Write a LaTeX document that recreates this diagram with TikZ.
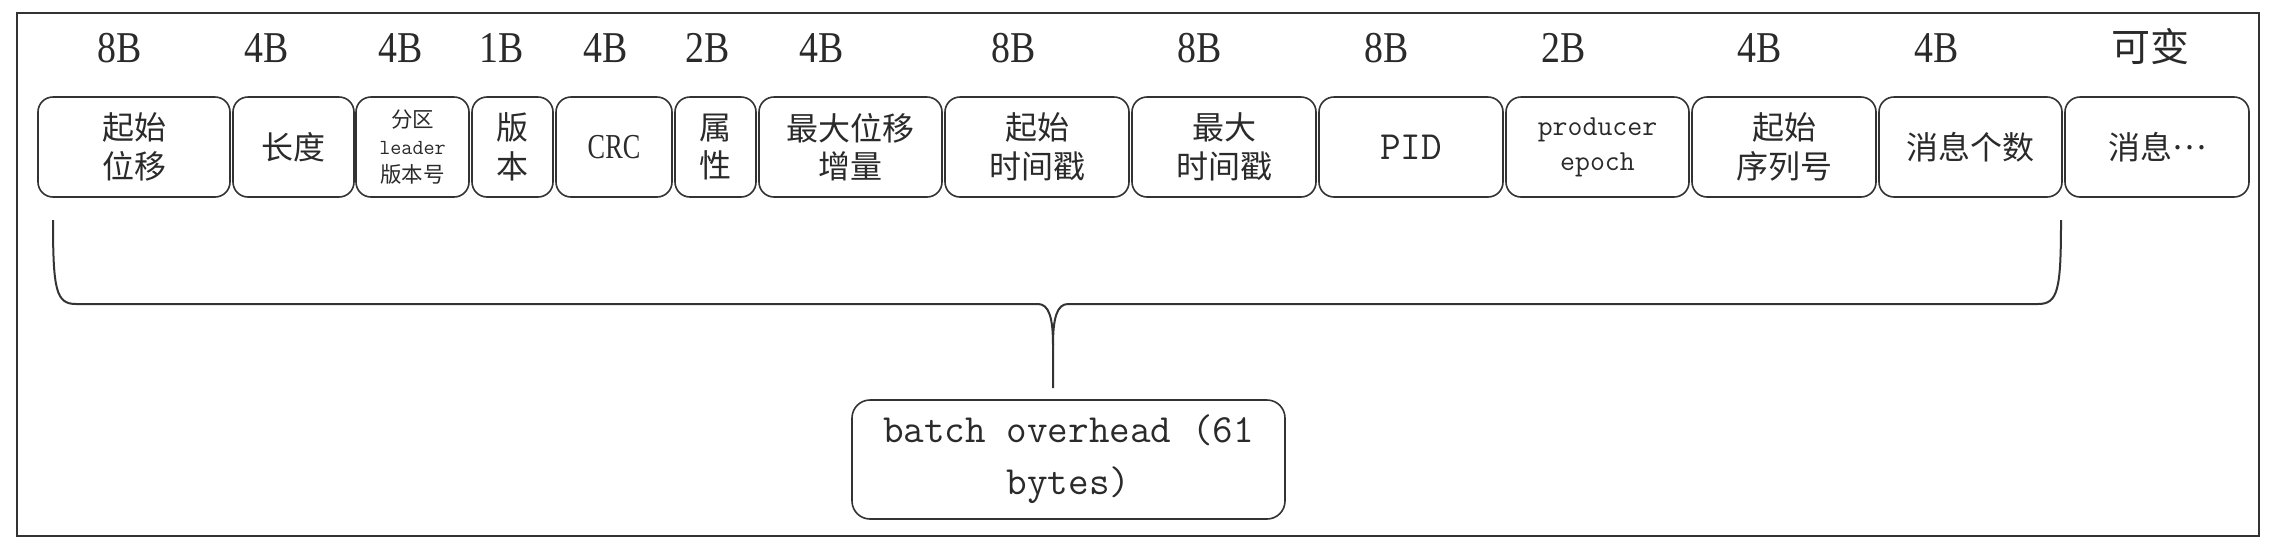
\documentclass[tikz,border=0pt]{standalone}
\usepackage{fontspec}
\setmainfont{Liberation Serif}
\newfontfamily\cjk{Noto Sans CJK SC}
\newfontfamily\cond{Liberation Serif}[FakeStretch=0.75]
\newfontfamily\labf{Liberation Serif}[FakeStretch=0.86]
\definecolor{linec}{HTML}{333333}
\definecolor{txt}{HTML}{2A2A2A}
\newcommand{\low}[1]{\raisebox{-4pt}{#1}}
\begin{document}
\begin{tikzpicture}[x=1pt,y=-1pt,
  fld/.style={draw=linec,line width=1.6pt,rounded corners=15pt,inner sep=0pt,
    minimum height=100pt,align=center,text=txt,font=\cjk\fontsize{32}{38.5}\selectfont},
  bytelab/.style={text=txt,inner sep=0pt,font=\labf\fontsize{44}{48}\selectfont},
  frame/.style={draw=linec,line width=2.6pt},
  brace/.style={draw=linec,line width=2pt}]
\useasboundingbox (0,0) rectangle (2278,550);
\draw[frame] (17,13) rectangle (2259,536);
% fields
\node[fld,minimum width=192pt] (f1) at (134,147) {起始\\位移};
\node[fld,minimum width=121pt] (f2) at (293.5,147) {\low{长度}};
\node[fld,minimum width=113pt,font=\cjk\fontsize{21.5}{27.5}\selectfont] (f3) at (412.5,147) {分区\\{\ttfamily leader}\\版本号};
\node[fld,minimum width=81pt] (f4) at (512.5,147) {版\\本};
\node[fld,minimum width=116pt,font=\cond\fontsize{35}{40}\selectfont] (f5) at (614,147) {\low{CRC}};
\node[fld,minimum width=81pt] (f6) at (715.5,147) {属\\性};
\node[fld,minimum width=183pt] (f7) at (850.5,147) {最大位移\\增量};
\node[fld,minimum width=184pt] (f8) at (1037,147) {起始\\时间戳};
\node[fld,minimum width=184pt] (f9) at (1224,147) {最大\\时间戳};
\node[fld,minimum width=184pt,font=\ttfamily\fontsize{40}{44}\selectfont] (f10) at (1411,147) {\low{PID}};
\node[fld,minimum width=183pt,font=\ttfamily\fontsize{29}{35}\selectfont] (f11) at (1597.5,147) {producer\\epoch};
\node[fld,minimum width=184pt] (f12) at (1784,147) {起始\\序列号};
\node[fld,minimum width=183pt] (f13) at (1970.5,147) {\low{消息个数}};
\node[fld,minimum width=184pt] (f14) at (2157,147) {\low{消息\raisebox{0.32em}{…}}};
% byte sizes
\node[bytelab] (l1) at (120,48) {8B};
\node[bytelab] (l2) at (267,48) {4B};
\node[bytelab] (l3) at (401,48) {4B};
\node[bytelab] (l4) at (502,48) {1B};
\node[bytelab] (l5) at (606,48) {4B};
\node[bytelab] (l6) at (708,48) {2B};
\node[bytelab] (l7) at (822,48) {4B};
\node[bytelab] (l8) at (1014,48) {8B};
\node[bytelab] (l9) at (1200,48) {8B};
\node[bytelab] (l10) at (1387,48) {8B};
\node[bytelab] (l11) at (1564,48) {2B};
\node[bytelab] (l12) at (1760,48) {4B};
\node[bytelab] (l13) at (1937,48) {4B};
\node[bytelab,font=\cjk\fontsize{39}{42}\selectfont] (l14) at (2150,47) {可变};
% brace
\coordinate (bl) at (53,220);
\coordinate (br) at (2061,220);
\coordinate (tip) at (1053,388);
\draw[brace] (bl) .. controls (53,290) and (56,304) .. (76,304) -- (1038,304)
  .. controls (1049,304) and (1053,318) .. (1053,345) -- (tip);
\draw[brace] (br) .. controls (2061,290) and (2058,304) .. (2038,304) -- (1068,304)
  .. controls (1057,304) and (1053,318) .. (1053,345);
% overhead box
\node[fld,minimum width=433pt,minimum height=119pt,rounded corners=18pt,
  font=\ttfamily\fontsize{40}{52}\selectfont] (ov) at (1068.5,459.5) {batch overhead (61\\bytes)};
\end{tikzpicture}
\end{document}
